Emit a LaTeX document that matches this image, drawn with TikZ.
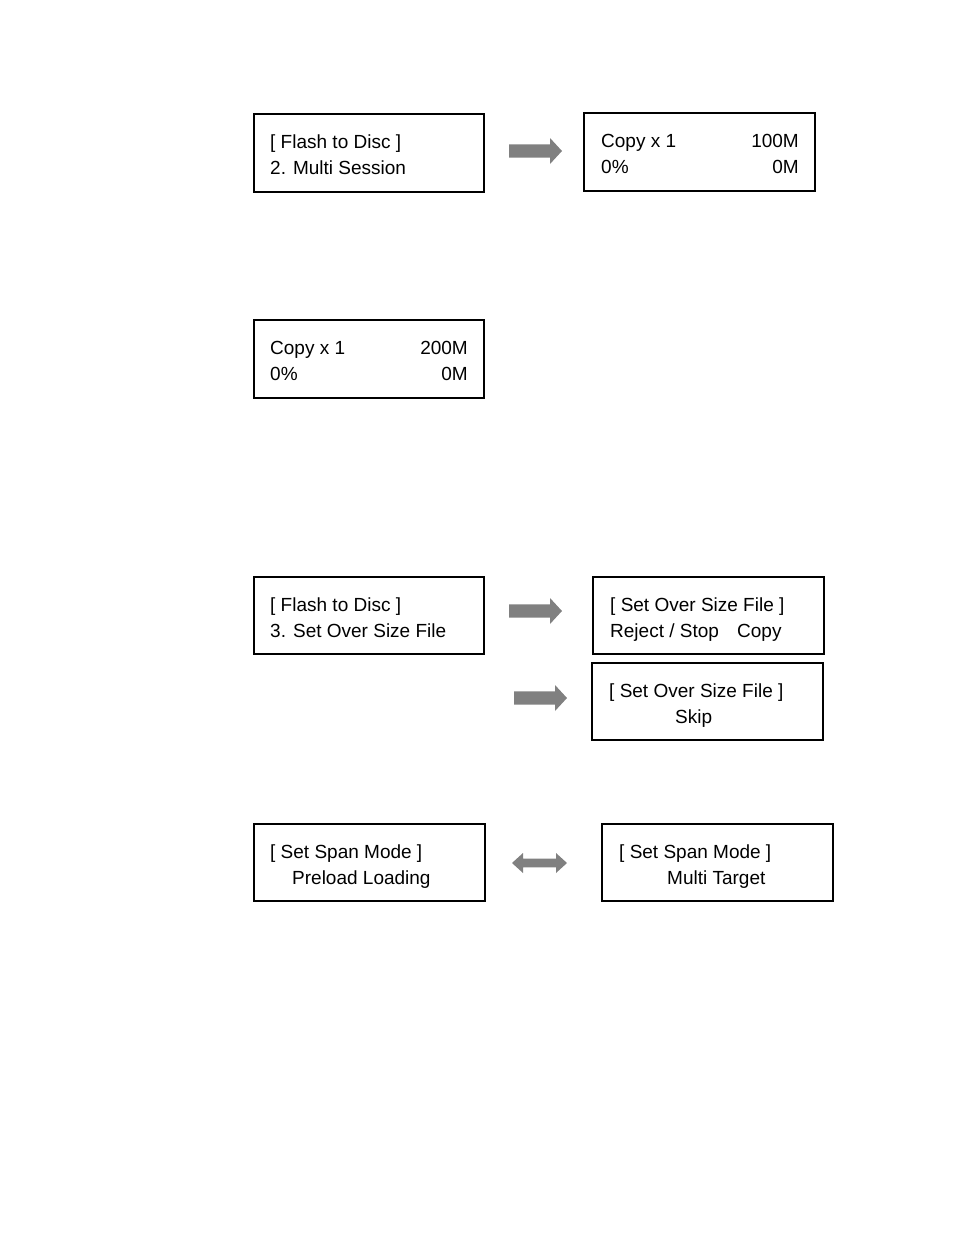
\documentclass[tikz,border=0pt]{standalone}
\usepackage{fontspec}
\setmainfont{Liberation Sans}
\begin{document}
\begin{tikzpicture}[x=1pt,y=-1pt,
  lcd/.style={draw=black,line width=1.6pt,inner sep=0pt},
  txt/.style={anchor=base west,inner sep=0pt,font=\fontsize{19}{26}\selectfont},
  rtxt/.style={anchor=base east,inner sep=0pt,font=\fontsize{19}{26}\selectfont},
  arrowfill/.style={fill=black!50,draw=none}]
\useasboundingbox (0,0) rectangle (954,1235);
% boxes
\draw[lcd] (254,114) rectangle (484,192) coordinate[pos=0.5] (boxA);
\draw[lcd] (584,113) rectangle (815,191) coordinate[pos=0.5] (boxB);
\draw[lcd] (254,320) rectangle (484,398) coordinate[pos=0.5] (boxC);
\draw[lcd] (254,577) rectangle (484,654) coordinate[pos=0.5] (boxD);
\draw[lcd] (593,577) rectangle (824,654) coordinate[pos=0.5] (boxE);
\draw[lcd] (592,663) rectangle (823,740) coordinate[pos=0.5] (boxF);
\draw[lcd] (254,824) rectangle (485,901) coordinate[pos=0.5] (boxG);
\draw[lcd] (602,824) rectangle (833,901) coordinate[pos=0.5] (boxH);
% texts
\node[txt] (tA1) at (270,148) {[ Flash to Disc ]};
\node[txt] (tA2) at (270,174) {2. Multi Session};
\node[txt] (tB1) at (601,147) {Copy x 1};
\node[rtxt] (tB2) at (799,147) {100M};
\node[txt] (tB3) at (601,173) {0\%};
\node[rtxt] (tB4) at (799,173) {0M};
\node[txt] (tC1) at (270,354) {Copy x 1};
\node[rtxt] (tC2) at (468,354) {200M};
\node[txt] (tC3) at (270,380) {0\%};
\node[rtxt] (tC4) at (468,380) {0M};
\node[txt] (tD1) at (270,611) {[ Flash to Disc ]};
\node[txt] (tD2) at (270,637) {3. Set Over Size File};
\node[txt] (tE1) at (610,611) {[ Set Over Size File ]};
\node[txt] (tE2) at (610,637) {Reject / Stop};
\node[txt] (tE3) at (737,637) {Copy};
\node[txt] (tF1) at (609,697) {[ Set Over Size File ]};
\node[txt] (tF2) at (675,723) {Skip};
\node[txt] (tG1) at (270,858) {[ Set Span Mode ]};
\node[txt] (tG2) at (292,884) {Preload Loading};
\node[txt] (tH1) at (619,858) {[ Set Span Mode ]};
\node[txt] (tH2) at (667,884) {Multi Target};
% arrows
\coordinate (a1) at (509,151);
\coordinate (a2) at (509,611);
\coordinate (a3) at (514,698);
\coordinate (a4) at (512,863);
\foreach \c in {a1,a2,a3}{
  \fill[arrowfill] (\c) ++(0,-6.7) -- ++(41,0) -- ++(0,-6.3) -- ++(12,13) -- ++(-12,13) -- ++(0,-6.3) -- ++(-41,0) -- cycle;
}
\fill[arrowfill] (a4) -- ++(11,-10) -- ++(0,5.7) -- ++(33,0) -- ++(0,-5.7) -- ++(11,10) -- ++(-11,10) -- ++(0,-5.7) -- ++(-33,0) -- ++(0,5.7) -- cycle;
\end{tikzpicture}
\end{document}
